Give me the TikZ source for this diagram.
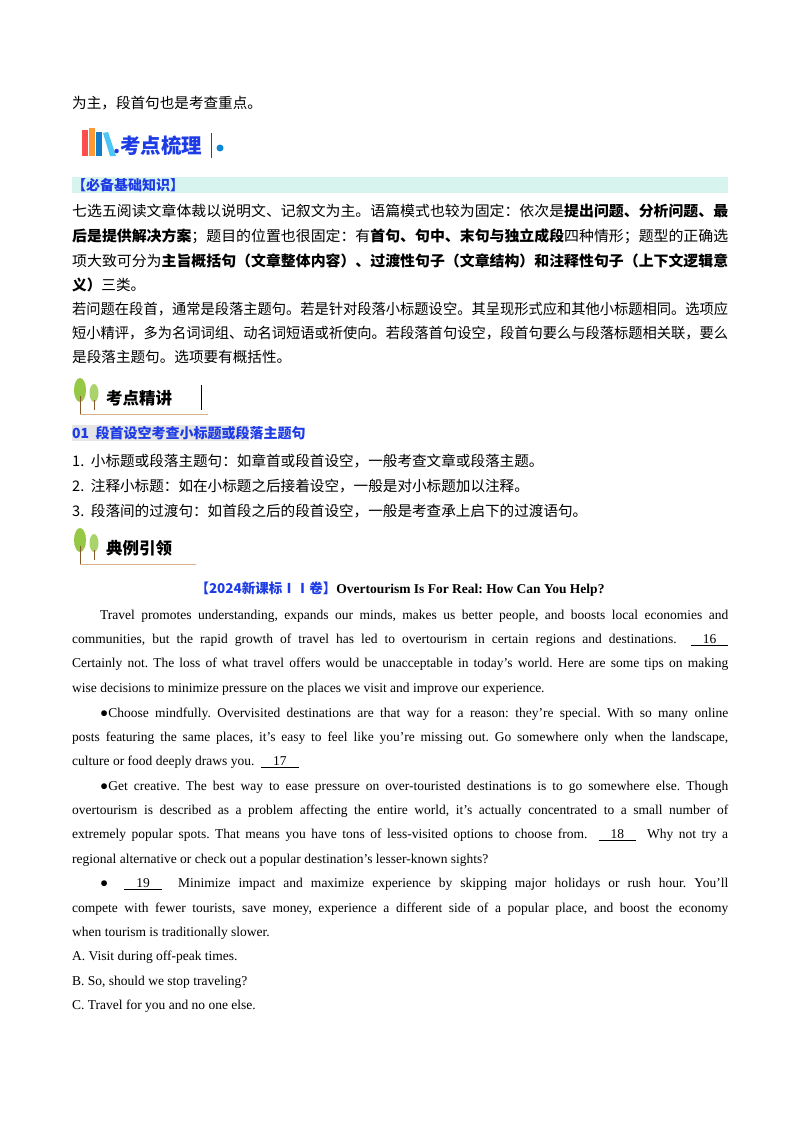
\documentclass[tikz,border=0pt]{standalone}
\usepackage{fontspec}
\usepackage{graphicx}
\setmainfont{Liberation Serif}
\newfontfamily\cjk{Noto Sans CJK SC}
\definecolor{hdrblue}{RGB}{30,60,230}
\definecolor{barcol}{RGB}{215,245,238}
\definecolor{leaf}{RGB}{150,200,70}
\frenchspacing
\begin{document}
\begin{tikzpicture}[x=1pt,y=-1pt,
  ln/.style={anchor=west,inner sep=0pt,font=\fontsize{13.5}{14}\selectfont},
  cn/.style={ln,font=\fontsize{14.6}{15}\selectfont\cjk},
  hd/.style={anchor=west,inner sep=0pt,font=\fontsize{20.5}{21}\selectfont\cjk\bfseries}]
\useasboundingbox[fill=white] (0,0) rectangle (800,1132);
\newcommand\blank[1]{\underline{\hspace{12pt}#1\hspace{12pt}}}
\newcommand\cb[1]{{\bfseries #1}}
\newcommand\F[1]{\resizebox{656pt}{\height}{#1}}
% first line
\node[cn] (l0) at (72,103) {为主，段首句也是考查重点。};
% header 1 with books
\fill[red!60!pink] (82,130) rectangle (88,156);
\fill[orange!80] (89,128) rectangle (95,156);
\fill[cyan!60!blue] (96,132) rectangle (102,156);
\fill[cyan!70] (103,133) -- (108,132) -- (116,156) -- (110,156) -- cycle;
\node[hd,text=hdrblue] (h1) at (113,146) {.考点梳理};
\draw[hdrblue,thick] (211,133)--(211,158);
\fill[cyan!70!blue] (220,148) circle (3.5);
% bar
\fill[barcol] (72,177) rectangle (728,193);
\node[cn,text=hdrblue,font=\fontsize{14}{14}\selectfont\cjk\bfseries] (bar) at (72,185) {【必备基础知识】};
\node[cn] (a1) at (72,211) {\F{七选五阅读文章体裁以说明文、记叙文为主。语篇模式也较为固定：依次是\cb{提出问题、分析问题、最}}};
\node[cn] (a2) at (72,236) {\F{\cb{后是提供解决方案}；题目的位置也很固定：有\cb{首句、句中、末句与独立成段}四种情形；题型的正确选}};
\node[cn] (a3) at (72,261) {\F{项大致可分为\cb{主旨概括句（文章整体内容）、过渡性句子（文章结构）和注释性句子（上下文逻辑意}}};
\node[cn] (a4) at (72,285) {\cb{义）}三类。};
\node[cn] (a5) at (72,309) {\F{若问题在段首，通常是段落主题句。若是针对段落小标题设空。其呈现形式应和其他小标题相同。选项应}};
\node[cn] (a6) at (72,333) {\F{短小精评，多为名词词组、动名词短语或祈使向。若段落首句设空，段首句要么与段落标题相关联，要么}};
\node[cn] (a7) at (72,357) {是段落主题句。选项要有概括性。};
% header 2 trees
\foreach \yy/\ttl/\nm/\ww in {398/考点精讲/h2/208, 548/典例引领/h3/196}{
  \fill[leaf] (80,\yy-8) ellipse (6 and 12);
  \fill[leaf!80] (94,\yy-5) ellipse (4.5 and 9);
  \draw[brown!70!black,thick] (80,\yy-2)--(80,\yy+16) (94,\yy+2)--(94,\yy+12);
  \draw[brown!60] (80,\yy+16)--(\ww,\yy+16);
  \node[hd,font=\fontsize{16.5}{17}\selectfont\cjk\bfseries] (\nm) at (106,\yy) {\ttl};
}
\draw[thick] (201,385)--(201,410);
% section title
\fill[gray!20] (72,425) rectangle (249,441);
\node[cn,text=hdrblue,font=\fontsize{14}{14}\selectfont\cjk\bfseries] (s1) at (72,433) {01\ \ 段首设空考查小标题或段落主题句};
\node[cn] (b1) at (72,461) {1.\ \ 小标题或段落主题句：如章首或段首设空，一般考查文章或段落主题。};
\node[cn] (b2) at (72,486) {2.\ \ 注释小标题：如在小标题之后接着设空，一般是对小标题加以注释。};
\node[cn] (b3) at (72,511) {3.\ \ 段落间的过渡句：如首段之后的段首设空，一般是考查承上启下的过渡语句。};
% title
\node[anchor=center,inner sep=0pt,font=\fontsize{13.5}{14}\selectfont\bfseries] (t) at (400,589) {\textcolor{hdrblue}{\cjk\bfseries 【2024新课标ⅠⅠ卷】}Overtourism Is For Real: How Can You Help?};
\newcommand\J[1]{\makebox[656pt][s]{#1}}
\node[ln] (p1) at (100,616) {\makebox[628pt][s]{Travel promotes understanding, expands our minds, makes us better people, and boosts local economies and}};
\node[ln] (p2) at (72,640) {\J{communities, but the rapid growth of travel has led to overtourism in certain regions and destinations. \ \blank{16}}};
\node[ln] (p3) at (72,664) {\J{Certainly not. The loss of what travel offers would be unacceptable in today’s world. Here are some tips on making}};
\node[ln] (p4) at (72,689) {wise decisions to minimize pressure on the places we visit and improve our experience.};
\node[ln] (p5) at (100,714) {\makebox[628pt][s]{●Choose mindfully. Overvisited destinations are that way for a reason: they’re special. With so many online}};
\node[ln] (p6) at (72,738) {\J{posts featuring the same places, it’s easy to feel like you’re missing out. Go somewhere only when the landscape,}};
\node[ln] (p7) at (72,762) {culture or food deeply draws you. \ \blank{17}};
\node[ln] (p8) at (100,787) {\makebox[628pt][s]{●Get creative. The best way to ease pressure on over-touristed destinations is to go somewhere else. Though}};
\node[ln] (p9) at (72,811) {\J{overtourism is described as a problem affecting the entire world, it’s actually concentrated to a small number of}};
\node[ln] (p10) at (72,835) {\J{extremely popular spots. That means you have tons of less-visited options to choose from. \ \blank{18} \ Why not try a}};
\node[ln] (p11) at (72,860) {regional alternative or check out a popular destination’s lesser-known sights?};
\node[ln] (p12) at (100,884) {\makebox[628pt][s]{● \ \blank{19} \ Minimize impact and maximize experience by skipping major holidays or rush hour. You’ll}};
\node[ln] (p13) at (72,909) {\J{compete with fewer tourists, save money, experience a different side of a popular place, and boost the economy}};
\node[ln] (p14) at (72,933) {when tourism is traditionally slower.};
\node[ln] (oa) at (72,957) {A. Visit during off-peak times.};
\node[ln] (ob) at (72,982) {B. So, should we stop traveling?};
\node[ln] (oc) at (72,1006) {C. Travel for you and no one else.};
\end{tikzpicture}
\end{document}
